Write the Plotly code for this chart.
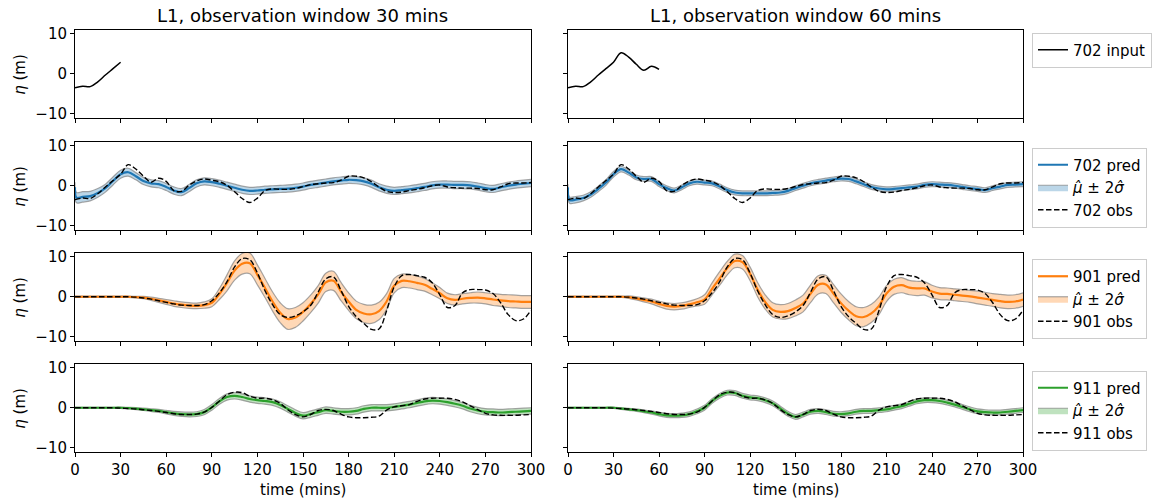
import numpy as np
import plotly.graph_objects as go
from plotly.subplots import make_subplots

# ---- data (tsunami amplitude, metres) on a 5-minute grid ----
time_min = list(range(0, 301, 5))
# gauge 702 predictions carry an extra sample right after the start
time_702_pred = [0, 1] + list(range(5, 301, 5))

obs_702 = [-3.5, -3.1, -3.2, -2.0, -0.3, 1.3, 2.9, 5.3, 4.2, 2.4, 0.9, 1.9, 1.1,
           -1.2, -1.4, 0.1, 1.2, 1.7, 1.4, 1.0, 0.1, -1.5, -3.2, -4.2, -3.1, -1.2,
           -0.8, -0.9, -0.9, -0.7, -0.2, 0.3, 0.5, 0.7, 0.8, 1.4, 2.4, 2.4, 2.0,
           1.0, -0.3, -1.4, -1.7, -1.6, -1.2, -0.9, -0.5, 0.0, 0.2, -0.3, -0.5,
           -0.6, -0.6, -0.7, -1.0, -1.0, -0.3, 0.5, 0.7, 0.7, 0.8]

obs_901 = [0, 0, 0, 0, 0, 0, 0, 0, -0.1, -0.3, -0.6, -1.0, -1.4, -1.8, -2.1,
           -2.2, -2.2, -2.0, -1.0, 1.0, 3.8, 7.5, 9.6, 9.3, 6.0, 1.5, -2.0, -4.5,
           -5.2, -4.8, -3.8, -2.2, 1.2, 4.5, 5.0, 1.6, -2.4, -5.0, -6.7, -8.2,
           -8.1, -3.5, 2.5, 5.3, 5.6, 5.3, 4.9, 3.5, 0.5, -2.7, -2.2, 1.0, 1.8,
           1.8, 1.7, 0.8, -1.5, -4.5, -6.0, -5.6, -3.4]

obs_911 = [0, 0, 0, 0, 0, 0, -0.1, -0.2, -0.3, -0.5, -0.7, -0.9, -1.2, -1.5,
           -1.7, -1.7, -1.6, -1.1, 0.1, 1.7, 3.3, 3.9, 3.8, 2.9, 2.4, 2.4, 2.0,
           1.1, -0.5, -1.7, -2.3, -1.7, -0.7, -0.4, -0.7, -1.6, -2.3, -2.5, -2.5,
           -2.4, -2.1, -0.6, 0.2, 0.5, 0.8, 1.6, 2.2, 2.4, 2.4, 2.4, 2.1, 1.5,
           0.5, -0.5, -1.4, -1.8, -1.9, -1.9, -1.9, -1.8, -1.7]

# predictions, 30-minute observation window
pred_702_w30 = [-0.4, -3.0, -2.8, -2.6, -1.8, -0.6, 1.2, 2.9, 3.4, 2.4, 1.2, 0.6,
                0.4, -0.3, -1.2, -1.6, -0.6, 0.6, 1.1, 0.9, 0.5, 0.0, -0.5, -1.0,
                -1.3, -1.2, -1.0, -0.9, -0.8, -0.7, -0.5, -0.2, 0.2, 0.5, 0.8, 1.1,
                1.3, 1.5, 1.4, 1.1, 0.5, -0.4, -1.0, -1.3, -1.1, -0.9, -0.6, -0.3,
                0.1, 0.3, 0.3, 0.2, 0.2, 0.1, -0.2, -0.6, -0.8, -0.4, 0.0, 0.3,
                0.5, 0.7]
band_702_w30 = [1.3, 1.3, 1.3, 1.2, 1.1, 1.0, 1.0, 1.0, 1.0, 0.9, 0.9, 0.9, 0.9,
                0.9, 0.9, 0.9, 0.9, 0.9, 0.9, 0.9, 0.9, 0.9, 0.9, 0.9, 0.9, 0.9,
                0.9, 0.9, 0.9, 0.9, 0.9, 0.9, 0.9, 0.9, 0.9, 0.9, 0.9, 0.9, 0.9,
                0.9, 0.9, 0.9, 0.9, 0.9, 0.9, 0.9, 0.9, 0.9, 0.9, 0.9, 0.9, 0.9,
                0.9, 0.9, 0.9, 0.9, 0.9, 0.9, 0.9, 0.9, 0.9, 0.9]

pred_901_w30 = [0, 0, 0, 0, 0, 0, 0, 0, -0.1, -0.2, -0.5, -0.9, -1.3, -1.7, -2.0,
                -2.2, -2.3, -2.1, -1.5, 0.7, 3.5, 6.6, 8.3, 8.4, 5.5, 2.2, -1.2,
                -4.0, -5.6, -5.2, -3.8, -1.8, 0.6, 3.6, 4.0, 1.3, -1.2, -3.3, -4.2,
                -4.4, -3.6, -1.2, 2.8, 4.0, 3.9, 3.5, 3.0, 2.0, 0.9, -0.4, -0.8,
                -0.5, -0.3, -0.2, -0.4, -0.7, -0.9, -1.1, -1.2, -1.3, -1.3]
band_901_w30 = [0.15, 0.15, 0.15, 0.15, 0.15, 0.15, 0.15, 0.15, 0.2, 0.3, 0.4,
                0.5, 0.6, 0.7, 0.7, 0.7, 0.7, 0.8, 1.0, 1.4, 2.0, 2.4, 2.6, 2.6,
                2.5, 2.4, 2.4, 2.5, 2.6, 2.5, 2.3, 2.2, 2.2, 2.3, 2.4, 2.3, 2.2,
                2.2, 2.3, 2.3, 2.2, 2.0, 1.8, 1.7, 1.7, 1.7, 1.6, 1.5, 1.4, 1.3,
                1.3, 1.3, 1.3, 1.4, 1.4, 1.5, 1.5, 1.6, 1.6, 1.6, 1.6]

pred_911_w30 = [0, 0, 0, 0, 0, 0, 0, -0.1, -0.2, -0.4, -0.6, -0.8, -1.1, -1.4,
                -1.6, -1.7, -1.6, -1.1, 0.1, 1.6, 2.7, 3.0, 2.7, 2.2, 1.9, 1.7, 1.4,
                0.7, -0.3, -1.3, -2.0, -1.6, -1.1, -0.6, -0.8, -1.0, -1.0, -0.8,
                -0.3, 0.0, 0.0, 0.0, 0.2, 0.5, 0.8, 1.2, 1.6, 1.8, 1.7, 1.4, 1.0,
                0.5, -0.2, -0.7, -1.0, -1.1, -1.2, -1.1, -1.0, -0.9, -0.8]
band_911_w30 = [0.1, 0.1, 0.1, 0.1, 0.1, 0.1, 0.15, 0.2, 0.25, 0.3, 0.35, 0.4,
                0.45, 0.5, 0.55, 0.6, 0.6, 0.65, 0.7, 0.75, 0.8, 0.8, 0.8, 0.8,
                0.8, 0.8, 0.8, 0.8, 0.8, 0.8, 0.8, 0.8, 0.8, 0.8, 0.8, 0.8, 0.8,
                0.8, 0.8, 0.8, 0.8, 0.8, 0.8, 0.8, 0.8, 0.8, 0.8, 0.8, 0.8, 0.8,
                0.8, 0.8, 0.8, 0.8, 0.8, 0.8, 0.8, 0.8, 0.8, 0.8, 0.8]

# predictions, 60-minute observation window
pred_702_w60 = [-0.4, -3.6, -3.5, -3.1, -2.2, -0.8, 0.8, 2.9, 4.2, 3.3, 2.1, 1.7,
                1.7, 0.4, -0.6, -1.2, -0.4, 0.6, 1.0, 0.8, 0.6, -0.2, -1.1, -1.7,
                -1.9, -1.9, -1.9, -1.9, -1.8, -1.7, -1.3, -0.6, 0.0, 0.6, 1.0, 1.3,
                1.6, 1.8, 1.7, 1.1, 0.4, -0.3, -0.7, -0.9, -0.8, -0.6, -0.4, -0.2,
                0.2, 0.4, 0.3, 0.2, 0.0, -0.3, -0.6, -0.8, -1.1, -0.6, -0.2, 0.2,
                0.3, 0.4]
band_702_w60 = [0.8, 0.8, 0.8, 0.7, 0.7, 0.7, 0.7, 0.7, 0.7, 0.6, 0.6, 0.6, 0.6,
                0.6, 0.6, 0.6, 0.6, 0.6, 0.6, 0.6, 0.6, 0.6, 0.6, 0.6, 0.6, 0.6,
                0.6, 0.6, 0.6, 0.6, 0.6, 0.6, 0.6, 0.6, 0.6, 0.6, 0.6, 0.6, 0.6,
                0.6, 0.6, 0.6, 0.6, 0.6, 0.6, 0.6, 0.6, 0.6, 0.6, 0.6, 0.6, 0.6,
                0.6, 0.6, 0.6, 0.6, 0.6, 0.6, 0.6, 0.6, 0.6, 0.6]

pred_901_w60 = [0, 0, 0, 0, 0, 0, 0, 0, -0.1, -0.4, -0.8, -1.2, -1.8, -2.3, -2.5,
                -2.3, -1.9, -1.4, -0.7, 2.0, 4.6, 7.2, 9.0, 8.7, 5.8, 1.8, -1.3,
                -3.3, -3.8, -3.6, -2.8, -1.7, 0.8, 3.0, 3.1, 0.8, -1.6, -3.5, -4.9,
                -5.1, -4.2, -2.3, 0.8, 2.5, 2.9, 2.3, 2.1, 2.1, 1.3, 0.8, 0.7, 0.5,
                0.3, 0.1, -0.2, -0.5, -0.8, -1.1, -1.3, -1.2, -0.7]
band_901_w60 = [0.15, 0.15, 0.15, 0.15, 0.15, 0.15, 0.15, 0.15, 0.3, 0.4, 0.5,
                0.6, 0.7, 0.8, 0.8, 0.8, 0.8, 0.9, 1.2, 1.5, 1.7, 1.7, 1.7, 1.7,
                1.7, 1.8, 1.8, 1.8, 1.8, 1.9, 2.0, 2.1, 2.2, 2.3, 2.3, 2.3, 2.3,
                2.3, 2.4, 2.4, 2.3, 2.2, 2.0, 1.9, 1.9, 1.8, 1.8, 1.7, 1.6, 1.5,
                1.5, 1.5, 1.5, 1.5, 1.6, 1.6, 1.6, 1.7, 1.7, 1.7, 1.7]

pred_911_w60 = [0, 0, 0, 0, 0, 0, 0, -0.2, -0.4, -0.6, -0.9, -1.2, -1.6, -1.9,
                -2.0, -1.9, -1.6, -0.9, 0.0, 1.7, 3.0, 3.8, 3.7, 3.0, 2.6, 2.4, 1.9,
                1.1, -0.2, -1.5, -2.3, -1.7, -1.0, -0.8, -1.1, -1.5, -1.6, -1.4,
                -1.0, -0.8, -0.8, -0.6, -0.4, 0.0, 0.4, 1.0, 1.6, 1.9, 1.9, 1.7, 1.3,
                0.8, 0.2, -0.4, -0.9, -1.1, -1.2, -1.2, -1.0, -0.8, -0.6]
band_911_w60 = [0.1, 0.1, 0.1, 0.1, 0.1, 0.1, 0.15, 0.2, 0.25, 0.3, 0.35, 0.4,
                0.45, 0.5, 0.5, 0.55, 0.55, 0.6, 0.6, 0.6, 0.6, 0.6, 0.6, 0.6,
                0.6, 0.6, 0.6, 0.6, 0.6, 0.6, 0.6, 0.6, 0.6, 0.6, 0.6, 0.6, 0.6,
                0.6, 0.6, 0.6, 0.6, 0.6, 0.6, 0.6, 0.6, 0.6, 0.6, 0.6, 0.6, 0.6,
                0.6, 0.6, 0.6, 0.6, 0.6, 0.6, 0.6, 0.6, 0.6, 0.6, 0.6]

windows = [30, 60]
gauges = ["702", "901", "911"]
obs = {"702": obs_702, "901": obs_901, "911": obs_911}
pred = {30: {"702": pred_702_w30, "901": pred_901_w30, "911": pred_911_w30},
        60: {"702": pred_702_w60, "901": pred_901_w60, "911": pred_911_w60}}
band = {30: {"702": band_702_w30, "901": band_901_w30, "911": band_911_w30},
        60: {"702": band_702_w60, "901": band_901_w60, "911": band_911_w60}}
pred_time = {"702": time_702_pred, "901": time_min, "911": time_min}
colors = {"702": (31, 119, 180), "901": (255, 127, 14), "911": (44, 160, 44)}

x_ticks = list(range(0, 301, 30))
y_ticks = [-10, 0, 10]

# ---- layout geometry (pixels) ----
W, H = 1162, 504
col_px = [(75, 531), (568, 1023)]
row_px = [(30, 117.7), (142, 229.5), (253, 340.5), (364, 451.5)]
FONT = "DejaVu Sans"
EDGE = "rgba(128,128,128,0.7)"

fig = make_subplots(rows=4, cols=2)

legend_names = ["legend", "legend2", "legend3", "legend4"]
t_arr = np.array(time_min)

# row 1: input series
for c, win in enumerate(windows):
    mask = t_arr <= win
    fig.add_trace(go.Scatter(
        x=t_arr[mask], y=np.array(obs_702)[mask], mode="lines",
        line=dict(color="black", width=1.5, shape="spline"),
        name="702 input", legend="legend", showlegend=(c == 1)),
        row=1, col=c + 1)

# rows 2-4: predictions with uncertainty band and observations
for r, g in enumerate(gauges):
    rgb = colors[g]
    fill = "rgba(%d,%d,%d,0.3)" % rgb
    leg = legend_names[r + 1]
    tp = pred_time[g]
    for c, win in enumerate(windows):
        mu = np.array(pred[win][g])
        w = np.array(band[win][g])
        show = (c == 1)
        fig.add_trace(go.Scatter(
            x=tp, y=mu + w, mode="lines",
            line=dict(color=EDGE, width=1.2, shape="spline"),
            showlegend=False, hoverinfo="skip", legend=leg),
            row=r + 2, col=c + 1)
        fig.add_trace(go.Scatter(
            x=tp, y=mu - w, mode="lines", fill="tonexty", fillcolor=fill,
            line=dict(color=EDGE, width=1.2, shape="spline"),
            showlegend=False, legend=leg), row=r + 2, col=c + 1)
        fig.add_trace(go.Scatter(
            x=tp, y=mu, mode="lines",
            line=dict(color="rgb(%d,%d,%d)" % rgb, width=2.2, shape="spline"),
            name=f"{g} pred", legend=leg, legendrank=1, showlegend=show),
            row=r + 2, col=c + 1)
        fig.add_trace(go.Scatter(
            x=time_min, y=obs[g], mode="lines",
            line=dict(color="black", width=1.4, dash="5.5px,2.5px", shape="spline"),
            name=f"{g} obs", legend=leg, legendrank=3, showlegend=show),
            row=r + 2, col=c + 1)
    # legend key for the shaded band (closed patch)
    fig.add_trace(go.Scatter(
        x=[None], y=[None], mode="lines", fill="toself", fillcolor=fill,
        line=dict(color=EDGE, width=1.2),
        name="<i>μ̂</i> ± 2<i>σ̂</i>", legend=leg, legendrank=2, showlegend=True),
        row=r + 2, col=2)

# axes
for r in range(4):
    for c in range(2):
        idx = r * 2 + c + 1
        sx = "" if idx == 1 else str(idx)
        x0, x1 = col_px[c]
        y0, y1 = row_px[r]
        fig.layout["xaxis" + sx].update(
            domain=[x0 / W, x1 / W], range=[0, 300], tickvals=x_ticks,
            showticklabels=(r == 3), ticks="outside", ticklen=4, tickwidth=1,
            tickcolor="black", showline=True, linecolor="black", linewidth=1,
            mirror=True, showgrid=False, zeroline=False, automargin=False,
            tickfont=dict(size=15, color="black"))
        fig.layout["yaxis" + sx].update(
            domain=[1 - y1 / H, 1 - y0 / H], range=[-11, 11], tickvals=y_ticks,
            showticklabels=(c == 0), ticks="outside", ticklen=4, tickwidth=1,
            tickcolor="black", showline=True, linecolor="black", linewidth=1,
            mirror=True, showgrid=False, zeroline=False, automargin=False,
            tickfont=dict(size=15, color="black"))

annotations = []
titles = ["L1, observation window 30 mins", "L1, observation window 60 mins"]
for c in range(2):
    xc = (col_px[c][0] + col_px[c][1]) / 2 / W
    annotations.append(dict(text=titles[c], x=xc, y=1 - 15 / H, xref="paper",
                            yref="paper", showarrow=False, xanchor="center",
                            yanchor="middle", font=dict(size=18, color="black")))
    annotations.append(dict(text="time (mins)", x=xc, y=1 - 490 / H, xref="paper",
                            yref="paper", showarrow=False, xanchor="center",
                            yanchor="middle", font=dict(size=15, color="black")))
for r in range(4):
    yc = (row_px[r][0] + row_px[r][1]) / 2
    annotations.append(dict(text="<i>η</i> (m)", x=20 / W, y=1 - yc / H,
                            xref="paper", yref="paper", showarrow=False,
                            textangle=-90, xanchor="center", yanchor="middle",
                            font=dict(size=15, color="black")))

legend_style = dict(x=1032 / W, xanchor="left", yanchor="middle",
                    bgcolor="white", bordercolor="rgb(204,204,204)", borderwidth=1,
                    font=dict(size=15, color="black"), traceorder="normal")
legend_centers = [50, 187.5, 299, 410.5]

fig.update_layout(
    width=W, height=H, margin=dict(l=0, r=0, t=0, b=0),
    paper_bgcolor="white", plot_bgcolor="white",
    font=dict(family=FONT, size=15, color="black"),
    annotations=annotations,
    legend=dict(y=1 - legend_centers[0] / H, **legend_style),
    legend2=dict(y=1 - legend_centers[1] / H, **legend_style),
    legend3=dict(y=1 - legend_centers[2] / H, **legend_style),
    legend4=dict(y=1 - legend_centers[3] / H, **legend_style),
)

fig.write_html("out.html")
